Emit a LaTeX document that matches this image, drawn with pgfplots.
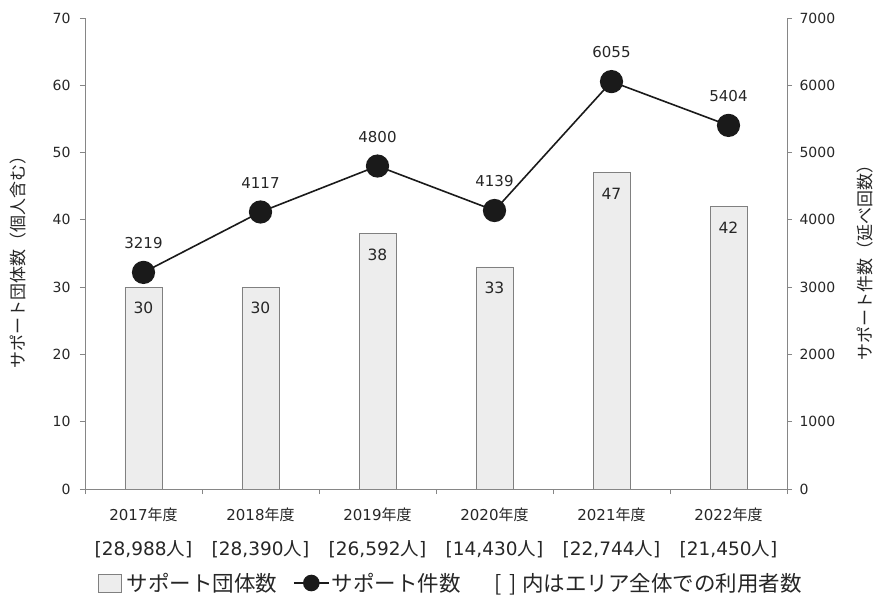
\documentclass[border=0pt]{standalone}
\usepackage{pgfplots}
\pgfplotsset{compat=1.18}
\usepackage{fontspec}
\setmainfont{Noto Sans CJK JP}
\newfontfamily\vf{DejaVu Sans}
\definecolor{barfill}{HTML}{EDEDED}
\definecolor{bargray}{HTML}{808080}
\definecolor{axgray}{HTML}{868686}
\definecolor{txt}{HTML}{262626}
\definecolor{ln}{HTML}{1A1A1A}
\newcommand{\xl}[2]{{\fontsize{15}{35}\selectfont{\vf #1}年度}\\{\fontsize{18.5}{35}\selectfont{\vf [#2}人{\vf ]}}}
\begin{document}
\begin{tikzpicture}
\path[use as bounding box] (-85pt,-117pt) rectangle (802pt,489pt);
\begin{axis}[
  width=702pt, height=471pt, scale only axis,
  xmin=-0.5, xmax=5.5, ymin=0, ymax=70,
  axis x line*=bottom, axis y line*=left,
  axis line style={-, draw=axgray, line width=0.8pt},
  ytick={0,10,...,70},
  xtick={0,...,5},
  xticklabels={
    {\xl{2017}{28,988}},
    {\xl{2018}{28,390}},
    {\xl{2019}{26,592}},
    {\xl{2020}{14,430}},
    {\xl{2021}{22,744}},
    {\xl{2022}{21,450}}},
  xtick style={draw=none},
  ytick style={draw=axgray, line width=0.8pt},
  tick align=outside, major tick length=5pt,
  yticklabel style={font=\vf\fontsize{14}{16}\selectfont, text=txt, xshift=-6pt},
  /pgf/number format/assume math mode=true,
  xticklabel style={align=center, text=txt, font=\fontsize{18.5}{35}\selectfont, anchor=north, yshift=-10pt},
  ylabel={サポート団体数（個人含む）},
  every axis y label/.style={at={(axis description cs:-0.0955,0.49)}, rotate=90, anchor=center, font=\fontsize{17}{19}\selectfont, text=txt},
]
\addplot[ybar, bar width=37pt, fill=barfill, draw=bargray, line width=0.8pt,
  nodes near coords,
  nodes near coords style={anchor=north, yshift=-11.5pt, font=\vf\fontsize{15.5}{17}\selectfont, text=txt}]
  coordinates {(0,30) (1,30) (2,38) (3,33) (4,47) (5,42)};
\end{axis}
\begin{axis}[
  width=702pt, height=471pt, scale only axis,
  xmin=-0.5, xmax=5.5, ymin=0, ymax=7000,
  axis x line*=bottom, axis y line*=right,
  axis line style={-, draw=axgray, line width=0.8pt},
  xtick={-0.5,0.5,...,5.5}, xticklabels={},
  ytick={0,1000,...,7000},
  tick align=outside, major tick length=5pt,
  tick style={draw=axgray, line width=0.8pt},
  scaled y ticks=false,
  /pgf/number format/1000 sep={},
  /pgf/number format/assume math mode=true,
  yticklabel style={font=\vf\fontsize{14}{16}\selectfont, text=txt, xshift=4pt},
  ylabel={サポート件数（延べ回数）},
  every axis y label/.style={at={(axis description cs:1.111,0.49)}, rotate=90, anchor=center, font=\fontsize{17}{19}\selectfont, text=txt},
  legend columns=3,
  legend cell align=left,
  legend style={at={(axis description cs:0.521,-0.1996)}, anchor=center, draw=none, fill=none,
    font=\fontsize{21.5}{25}\selectfont, text=txt,
    nodes={inner sep=2pt},
    /tikz/column 2/.style={column sep=14pt},
    /tikz/column 4/.style={column sep=30pt}},
]
\addlegendimage{legend image code/.code={\draw[fill=barfill, draw=bargray, line width=0.8pt] (0pt,-9pt) rectangle (23pt,9pt); \path (26pt,0pt);}}
\addlegendentry{サポート団体数}
\addplot[ln, line width=1.6pt, mark=*, mark size=10.8pt, mark options={fill=ln, draw=ln},
  legend image code/.code={\draw[ln, line width=1.6pt] (0pt,0pt) -- (35pt,0pt); \fill[ln] (17.5pt,0pt) circle (7.5pt);},
  nodes near coords,
  nodes near coords style={anchor=south, yshift=19.5pt, font=\vf\fontsize{15}{17}\selectfont, text=txt}]
  coordinates {(0,3219) (1,4117) (2,4800) (3,4139) (4,6055) (5,5404)};
\addlegendentry{サポート件数}
\addlegendimage{empty legend}
\addlegendentry{[\hspace{0.35em}]\hspace{0.25em}内はエリア全体での利用者数}
\end{axis}
\end{tikzpicture}
\end{document}
